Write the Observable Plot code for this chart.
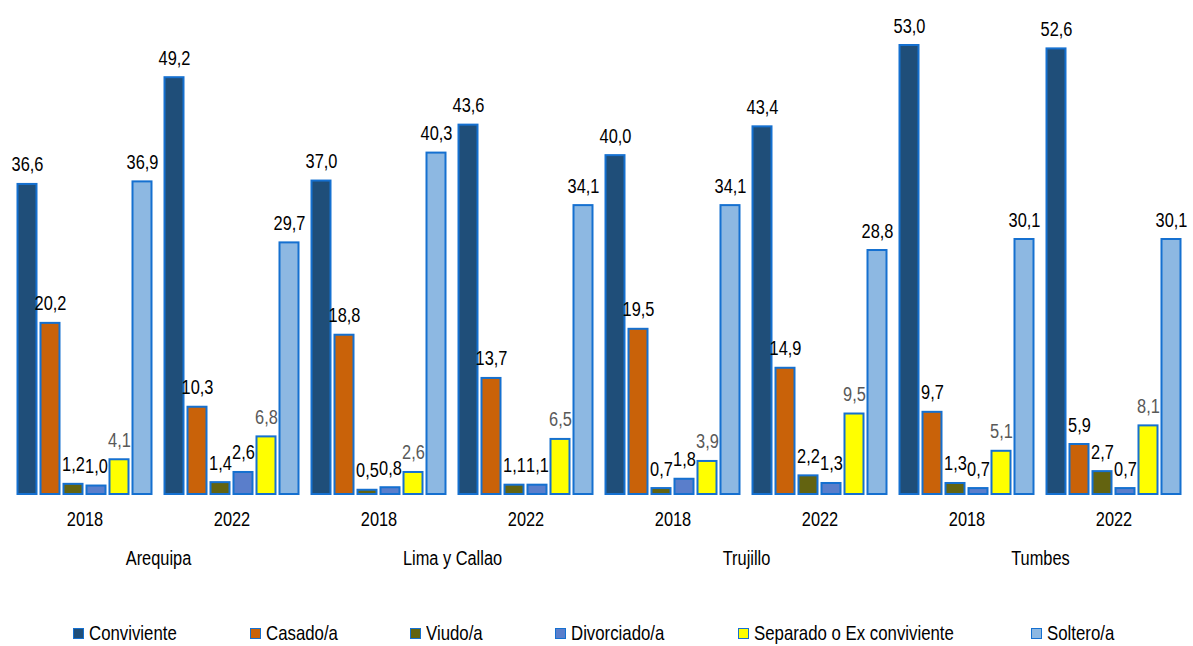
<!DOCTYPE html>
<html>
<head>
<meta charset="utf-8">
<script src="https://cdn.jsdelivr.net/npm/d3@7"></script>
<script src="https://cdn.jsdelivr.net/npm/@observablehq/plot@0.6"></script>
<style>
  html, body { margin: 0; padding: 0; background: #fff; }
  body { width: 1193px; height: 646px; overflow: hidden; font-family: "Liberation Sans", Arial, sans-serif; }
  #legend { position: relative; height: 46px; font-size: 21px; color: #000; white-space: nowrap; }
  .item { position: absolute; top: 22px; display: flex; align-items: center; height: 22px; }
  .sw { width: 9px; height: 9px; border: 1.5px solid #1570D0; margin-right: 5px; flex: none; }
  .lbl { display: inline-block; transform: scaleX(0.8); transform-origin: 0 50%; line-height: 22px; }
</style>
</head>
<body>
<div id="chart"></div>
<div id="legend"></div>
<script>
const cities = ["Arequipa", "Lima y Callao", "Trujillo", "Tumbes"];
const years = ["2018", "2022"];
const categories = ["Conviviente", "Casado/a", "Viudo/a", "Divorciado/a", "Separado o Ex conviviente", "Soltero/a"];
const colors = ["#1F4E79", "#C96209", "#636310", "#5A7ECB", "#FFFF00", "#8DB8E2"];

// order of groups: Arequipa 2018, Arequipa 2022, Lima 2018, Lima 2022, Trujillo 2018, Trujillo 2022, Tumbes 2018, Tumbes 2022
const conviviente = [36.6, 49.2, 37.0, 43.6, 40.0, 43.4, 53.0, 52.6];
const casado      = [20.2, 10.3, 18.8, 13.7, 19.5, 14.9, 9.7, 5.9];
const viudo       = [1.2, 1.4, 0.5, 1.1, 0.7, 2.2, 1.3, 2.7];
const divorciado  = [1.0, 2.6, 0.8, 1.1, 1.8, 1.3, 0.7, 0.7];
const separado    = [4.1, 6.8, 2.6, 6.5, 3.9, 9.5, 5.1, 8.1];
const soltero     = [36.9, 29.7, 40.3, 34.1, 34.1, 28.8, 30.1, 30.1];

const series = [conviviente, casado, viudo, divorciado, separado, soltero];
const keys = [];
cities.forEach(c => years.forEach(y => keys.push(c + "|" + y)));

const rows = [];
keys.forEach((k, gi) => {
  categories.forEach((cat, ci) => {
    rows.push({key: k, cat, value: series[ci][gi]});
  });
});
const yearRows = keys.map(k => ({key: k, year: k.split("|")[1]}));
const cityRows = cities.map(c => ({key: c + "|2018", city: c}));

const fmt = v => v.toFixed(1).replace(".", ",");
const strokeColor = "#1570D0";
const SQUEEZE = 0.78;

const chart = Plot.plot({
  width: 1193,
  height: 600,
  marginLeft: 10.5,
  marginRight: 6.5,
  marginTop: 45,
  marginBottom: 106,
  style: {fontFamily: "'Liberation Sans', Arial, sans-serif", fontSize: "21px", color: "#000", background: "#fff"},
  fx: {domain: keys, padding: 0, axis: null, label: null},
  x: {domain: categories, paddingInner: 0.174, paddingOuter: 0.28, axis: null, label: null},
  y: {domain: [0, 53], axis: null, label: null},
  color: {domain: categories, range: colors},
  marks: [
    Plot.barY(rows, {fx: "key", x: "cat", y: "value", fill: "cat", stroke: strokeColor, strokeWidth: 2}),
    Plot.text(rows, {fx: "key", x: "cat", y: "value", text: d => fmt(d.value), lineAnchor: "bottom", dy: -13,
      fill: d => d.cat === "Separado o Ex conviviente" ? "#595959" : "#000", fontSize: 21}),
    Plot.text(yearRows, {fx: "key", text: "year", frameAnchor: "bottom", lineAnchor: "middle", dy: 25, fontSize: 21, fill: "#000"}),
    Plot.text(cityRows, {fx: "key", text: "city", frameAnchor: "bottom-right", textAnchor: "middle", lineAnchor: "middle", dy: 64, fontSize: 21, fill: "#000"})
  ]
});
document.getElementById("chart").appendChild(chart);

// horizontally condense texts (narrow font look), scaling around each text's own anchor x
chart.querySelectorAll("text").forEach(t => {
  const X = +(t.getAttribute("x") || 0);
  const tr = t.getAttribute("transform") || "";
  t.setAttribute("transform", `${tr} translate(${X},0) scale(${SQUEEZE},1) translate(${-X},0)`);
});

// legend swatch left edges (px) as in the reference layout
const legendLeft = [73, 250, 410, 555, 738, 1031];
const legend = document.getElementById("legend");
categories.forEach((cat, i) => {
  const it = document.createElement("div");
  it.className = "item";
  it.style.left = legendLeft[i] + "px";
  const sw = document.createElement("div");
  sw.className = "sw";
  sw.style.background = colors[i];
  const t = document.createElement("span");
  t.className = "lbl";
  t.textContent = cat;
  it.appendChild(sw);
  it.appendChild(t);
  legend.appendChild(it);
});
</script>
</body>
</html>
